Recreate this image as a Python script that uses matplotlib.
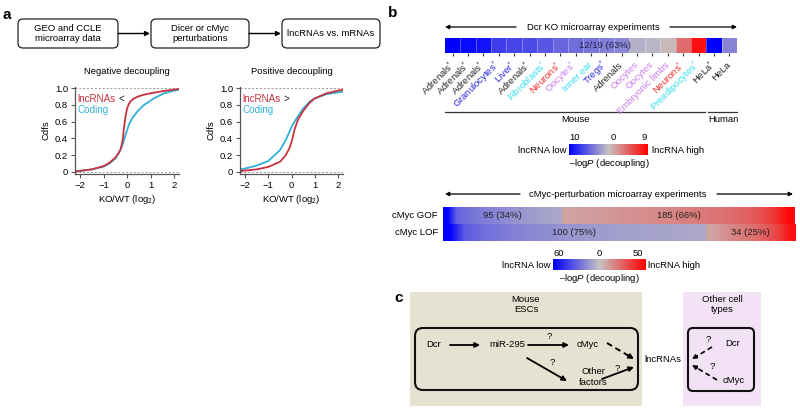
import numpy as np
import matplotlib
matplotlib.use("Agg")
import matplotlib.pyplot as plt
import matplotlib.colorbar as mcolorbar
from matplotlib.colors import LinearSegmentedColormap, TwoSlopeNorm
from matplotlib.patches import FancyBboxPatch, Rectangle

plt.rcParams['font.family'] = ['Liberation Sans', 'DejaVu Sans']
plt.rcParams['mathtext.fontset'] = 'custom'
plt.rcParams['mathtext.rm'] = 'Liberation Sans'
plt.rcParams['mathtext.it'] = 'Liberation Sans:italic'

FS = 6.8
RED = '#c8323f'
CYAN = '#2fb0d8'

# ---- panel a: cdf curves ----
neg_lnc_x = [-2.2, -2.0, -1.5, -1.0, -0.75, -0.5, -0.35, -0.28, -0.24, -0.2, -0.17, -0.14,
             -0.1, -0.05, 0.0, 0.07, 0.15, 0.3, 0.5, 0.75, 1.0, 1.5, 2.0, 2.2]
neg_lnc_y = [0.005, 0.012, 0.03, 0.068, 0.11, 0.17, 0.23, 0.27, 0.31, 0.36, 0.43, 0.51,
             0.6, 0.69, 0.76, 0.81, 0.845, 0.88, 0.905, 0.925, 0.94, 0.965, 0.985, 0.99]
neg_cod_x = [-2.2, -2.0, -1.5, -1.0, -0.75, -0.5, -0.3, -0.2, -0.07, 0.07, 0.21, 0.43, 0.71,
             1.14, 1.57, 2.04, 2.2]
neg_cod_y = [0.005, 0.012, 0.03, 0.065, 0.1, 0.16, 0.25, 0.32, 0.44, 0.56, 0.64, 0.72, 0.80,
             0.88, 0.94, 0.975, 0.98]

pos_lnc_x = [-2.2, -1.5, -1.0, -0.5, -0.25, -0.1, 0.0, 0.14, 0.28, 0.5, 0.78, 1.0, 1.5, 2.2]
pos_lnc_y = [0.01, 0.03, 0.06, 0.12, 0.2, 0.28, 0.36, 0.52, 0.63, 0.73, 0.83, 0.88, 0.94, 0.985]
pos_cod_x = [-2.2, -2.0, -1.5, -1.0, -0.5, -0.25, 0.0, 0.21, 0.5, 0.78, 1.0, 1.5, 2.2]
pos_cod_y = [0.03, 0.04, 0.075, 0.13, 0.26, 0.38, 0.54, 0.64, 0.76, 0.84, 0.88, 0.93, 0.96]

flow_labels = ["GEO and CCLE\nmicroarray data", "Dicer or cMyc\nperturbations", "lncRNAs vs. mRNAs"]

# ---- panel b: Dcr KO experiments ----
dcr_tissues = ["Adrenals*", "Adrenals*", "Adrenals*", "Granulocytes*", "Liver*", "Adrenals*",
               "Fibroblasts*", "Neurons*", "Oocytes*", "Inner ear", "Tregs*", "Adrenals",
               "Oocytes", "Oocytes", "Embryonic limbs", "Neurons*", "Preadipocytes*", "HeLa*", "HeLa"]
dcr_type = ["adr", "adr", "adr", "blood", "blood", "adr", "cyan", "neuron", "germ", "cyan", "blood",
            "adr", "germ", "germ", "germ", "neuron", "cyan", "adr", "adr"]
dcr_logp = [-10, -9.5, -9, -6.8, -6.4, -6.1, -5.5, -4.7, -4.3, -3.9, -3.4, -3.0,
            -0.9, -0.6, 0.4, 4.0, 8.2, -10, -3.2]
type_color = {"adr": "#222222", "blood": "#2222dd", "cyan": "#33dff0",
              "neuron": "#f02525", "germ": "#c97ced"}

# ---- panel b: cMyc experiments ----
gof_n = [95, 185]
lof_n = [100, 34]
gof_low = [-60, -30, -26, -23, -21, -19, -17, -15, -13.5, -12, -10.5, -9, -8]
gof_high = [8, 9, 10, 11, 12, 13, 14, 15, 16, 17.5, 19, 20, 22, 25, 29, 36, 48]
lof_low = [-60, -32, -27, -24, -21, -19, -17, -15.5, -14, -13, -12, -11, -10.5, -10, -9.5, -9, -8.5, -8]
lof_high = [8, 12, 16, 19, 22, 27, 34, 45]

cmap = LinearSegmentedColormap.from_list("bgr", ["#0000ff", "#c6c2c2", "#ff0000"])
norm_dcr = TwoSlopeNorm(vmin=-10, vcenter=0, vmax=9)
norm_myc = TwoSlopeNorm(vmin=-60, vcenter=0, vmax=50)

fig = plt.figure(figsize=(8, 4.11), dpi=100)
W, H = 800, 411

def fax(x0, y0, x1, y1):
    return fig.add_axes([x0 / W, 1 - y1 / H, (x1 - x0) / W, (y1 - y0) / H])

bg = fig.add_axes([0, 0, 1, 1], zorder=0)
bg.set_xlim(0, W)
bg.set_ylim(H, 0)
bg.axis('off')

def arrow(p0, p1, lw=1.0, ms=7):
    bg.annotate('', xy=p1, xytext=p0,
                arrowprops=dict(arrowstyle='-|>', color='k', lw=lw, mutation_scale=ms,
                                shrinkA=0, shrinkB=0))

def dashed_arrow(p0, p1, lw=1.4, ms=7):
    p0 = np.array(p0, float)
    p1 = np.array(p1, float)
    d = (p1 - p0) / np.hypot(*(p1 - p0))
    mid = p1 - d * 5
    bg.plot([p0[0], mid[0]], [p0[1], mid[1]], color='k', lw=lw, ls=(0, (3, 2)),
            solid_capstyle='butt', dash_capstyle='butt')
    bg.annotate('', xy=tuple(p1), xytext=tuple(p1 - d * 6),
                arrowprops=dict(arrowstyle='-|>', color='k', lw=lw, mutation_scale=ms,
                                shrinkA=0, shrinkB=0))

# panel labels
bg.text(7, 15, 'a', fontsize=11, fontweight='bold', ha='center', va='center')
bg.text(393, 13, 'b', fontsize=11, fontweight='bold', ha='center', va='center')
bg.text(399, 298, 'c', fontsize=11, fontweight='bold', ha='center', va='center')

# ---- panel a flow chart ----
boxes = [(18, 118), (151, 249), (282, 380)]
for (x0, x1), lab in zip(boxes, flow_labels):
    bg.add_patch(FancyBboxPatch((x0, 19), x1 - x0, 29, boxstyle='round,pad=0,rounding_size=5',
                                fc='white', ec='#222', lw=0.9))
    bg.text((x0 + x1) / 2, 33.5, lab, ha='center', va='center', fontsize=FS, linespacing=1.15)
arrow((118, 33.5), (150, 33.5))
arrow((249, 33.5), (281, 33.5))

bg.text(127, 72, 'Negative decoupling', ha='center', va='center', fontsize=FS)
bg.text(292, 72, 'Positive decoupling', ha='center', va='center', fontsize=FS)

def cdf_axes(ax, lx, ly, cx, cy, sign):
    ax.axhline(0, color='#999', lw=0.7, ls=(0, (2, 2)), zorder=0)
    ax.axhline(1, color='#999', lw=0.7, ls=(0, (2, 2)), zorder=0)
    ax.plot(cx, cy, color=CYAN, lw=1.3)
    ax.plot(lx, ly, color=RED, lw=1.3)
    ax.set_xlim(-2.21, 2.2)
    ax.set_ylim(-0.025, 1.015)
    ax.set_xticks([-2, -1, 0, 1, 2])
    ax.set_xticklabels(['\u22122', '\u22121', '0', '1', '2'])
    ax.set_yticks([0, 0.2, 0.4, 0.6, 0.8, 1.0])
    ax.set_yticklabels(['0', '0.2', '0.4', '0.6', '0.8', '1.0'])
    for s in ['top', 'right']:
        ax.spines[s].set_visible(False)
    for s in ['left', 'bottom']:
        ax.spines[s].set_color('#555')
        ax.spines[s].set_linewidth(0.9)
    ax.tick_params(labelsize=FS, length=3, width=0.8, color='#555', pad=2)
    ax.set_xlabel('KO/WT (log$_2$)', fontsize=FS, labelpad=2)
    ax.set_ylabel('Cdfs', fontsize=FS, labelpad=3)
    t = ax.text(0.02, 0.865, 'lncRNAs', transform=ax.transAxes, color=RED, fontsize=FS + 0.3,
                va='center')
    ax.annotate(sign, xy=(1, 0.5), xycoords=t, xytext=(2, 0), textcoords='offset points',
                va='center', ha='left', fontsize=FS + 0.3, color='#222')
    ax.text(0.02, 0.73, 'Coding', transform=ax.transAxes, color=CYAN, fontsize=FS + 0.3,
            va='center')

ax1 = fax(75, 87, 179, 174)
cdf_axes(ax1, neg_lnc_x, neg_lnc_y, neg_cod_x, neg_cod_y, '<')
ax2 = fax(240, 87, 343, 174)
cdf_axes(ax2, pos_lnc_x, pos_lnc_y, pos_cod_x, pos_cod_y, '>')

# ---- panel b: Dcr heatmap ----
bg.text(593, 27, 'Dcr KO microarray experiments', ha='center', va='center', fontsize=FS)
arrow((516, 27), (445, 27), lw=0.9, ms=6)
arrow((670, 27), (737, 27), lw=0.9, ms=6)

axd = fax(445, 38, 737, 53)
n = len(dcr_logp)
axd.imshow(np.array([dcr_logp]), cmap=cmap, norm=norm_dcr, aspect='auto',
           extent=(0, n, 0, 1), interpolation='nearest')
axd.vlines(np.arange(1, n), 0, 1, color='white', lw=0.6, alpha=0.35)
axd.set_xlim(0, n)
axd.set_ylim(0, 1)
axd.set_yticks([])
axd.set_xticks(np.arange(n) + 0.5)
labels = [t.replace('*', '$^{*}$') for t in dcr_tissues]
axd.set_xticklabels(labels, rotation=45, ha='right', va='center', rotation_mode='anchor',
                    fontsize=FS)
for lbl, ty in zip(axd.get_xticklabels(), dcr_type):
    lbl.set_color(type_color[ty])
axd.tick_params(axis='x', length=2.5, width=0.8, color='#333', pad=5)
for s in axd.spines.values():
    s.set_visible(False)
n_low = sum(1 for v in dcr_logp[:17] if v < -2)
axd.text(10.4, 0.5, '%d/%d (%d%%)' % (n_low, n, round(100 * n_low / n)), ha='center', va='center',
         fontsize=FS, color='#23234d')

bg.plot([445, 705], [112, 112], color='#333', lw=0.9)
bg.plot([708, 737], [112, 112], color='#333', lw=0.9)
bg.text(576, 119, 'Mouse', ha='center', va='center', fontsize=FS)
bg.text(723, 119, 'Human', ha='center', va='center', fontsize=FS)

cax1 = fax(569, 144, 648, 155)
cb1 = mcolorbar.ColorbarBase(cax1, cmap=cmap, norm=norm_dcr, orientation='horizontal')
cb1.set_ticks([])
cb1.outline.set_visible(False)
bg.text(575, 137, '10', ha='center', va='center', fontsize=FS)
bg.text(613, 137, '0', ha='center', va='center', fontsize=FS)
bg.text(644, 137, '9', ha='center', va='center', fontsize=FS)
bg.text(566, 150, 'lncRNA low', ha='right', va='center', fontsize=FS)
bg.text(652, 150, 'lncRNA high', ha='left', va='center', fontsize=FS)
bg.text(609, 163, '\u2013log$\\it{P}$ (decoupling)', ha='center', va='center', fontsize=FS)

# ---- panel b: cMyc heatmap ----
bg.text(618, 194, 'cMyc-perturbation microarray experiments', ha='center', va='center', fontsize=FS)
arrow((520, 194), (445, 194), lw=0.9, ms=6)
arrow((717, 194), (793, 194), lw=0.9, ms=6)

axm = fax(443, 207, 795, 241)
rows = [(gof_n, gof_low, gof_high, 1), (lof_n, lof_low, lof_high, 0)]
for counts, low, high, r in rows:
    frac = counts[0] / sum(counts)
    axm.imshow(np.array([low]), cmap=cmap, norm=norm_myc, aspect='auto',
               extent=(0, frac, r, r + 1), interpolation='bilinear')
    axm.imshow(np.array([high]), cmap=cmap, norm=norm_myc, aspect='auto',
               extent=(frac, 1, r, r + 1), interpolation='bilinear')
    axm.text(frac / 2, r + 0.5, '%d (%d%%)' % (counts[0], round(100 * frac)),
             ha='center', va='center', fontsize=FS, color='#222')
    axm.text((frac + 1) / 2, r + 0.5, '%d (%d%%)' % (counts[1], round(100 * (1 - frac))),
             ha='center', va='center', fontsize=FS, color='#222')
axm.set_xlim(0, 1)
axm.set_ylim(0, 2)
axm.axis('off')
bg.text(438, 215.5, 'cMyc GOF', ha='right', va='center', fontsize=FS)
bg.text(438, 232.5, 'cMyc LOF', ha='right', va='center', fontsize=FS)

cax2 = fax(553, 259, 646, 270)
cb2 = mcolorbar.ColorbarBase(cax2, cmap=cmap, norm=norm_myc, orientation='horizontal')
cb2.set_ticks([])
cb2.outline.set_visible(False)
bg.text(559, 253, '60', ha='center', va='center', fontsize=FS)
bg.text(599, 253, '0', ha='center', va='center', fontsize=FS)
bg.text(638, 253, '50', ha='center', va='center', fontsize=FS)
bg.text(550, 265, 'lncRNA low', ha='right', va='center', fontsize=FS)
bg.text(648, 265, 'lncRNA high', ha='left', va='center', fontsize=FS)
bg.text(599, 278, '\u2013log$\\it{P}$ (decoupling)', ha='center', va='center', fontsize=FS)

# ---- panel c: diagram ----
bg.add_patch(Rectangle((410, 292), 232, 114, fc='#e5e2d2', ec='none'))
bg.add_patch(Rectangle((683, 292), 78, 114, fc='#f3e2f6', ec='none'))
bg.text(526, 304.5, 'Mouse\nESCs', ha='center', va='center', fontsize=FS, linespacing=1.2)
bg.text(722, 304.5, 'Other cell\ntypes', ha='center', va='center', fontsize=FS, linespacing=1.2)
bg.add_patch(FancyBboxPatch((415, 328), 223, 62, boxstyle='round,pad=0,rounding_size=8',
                            fc='none', ec='#111', lw=1.5))
bg.add_patch(FancyBboxPatch((688, 328), 66, 63, boxstyle='round,pad=0,rounding_size=5',
                            fc='none', ec='#111', lw=1.5))

bg.text(434, 344, 'Dcr', ha='center', va='center', fontsize=FS)
bg.text(507, 344, 'miR-295', ha='center', va='center', fontsize=FS)
bg.text(588, 344, 'cMyc', ha='center', va='center', fontsize=FS)
bg.text(593, 377, 'Other\nfactors', ha='center', va='center', fontsize=FS, linespacing=1.2)
bg.text(663, 359, 'lncRNAs', ha='center', va='center', fontsize=FS)
arrow((450, 345), (480, 345), lw=1.3, ms=7)
arrow((528, 345), (569, 345), lw=1.3, ms=7)
bg.text(549, 336, '?', ha='center', va='center', fontsize=FS)
dashed_arrow((607, 343), (634, 359))
arrow((527, 358), (567, 381), lw=1.3, ms=7)
bg.text(552, 362, '?', ha='center', va='center', fontsize=FS)
arrow((602, 379), (634, 367), lw=1.3, ms=7)
bg.text(617, 368, '?', ha='center', va='center', fontsize=FS)

bg.text(733, 343, 'Dcr', ha='center', va='center', fontsize=FS)
bg.text(734, 380, 'cMyc', ha='center', va='center', fontsize=FS)
dashed_arrow((712, 347), (692, 359), lw=1.2, ms=6)
bg.text(708, 339, '?', ha='center', va='center', fontsize=FS)
dashed_arrow((717, 380), (692, 365), lw=1.2, ms=6)
bg.text(712, 366, '?', ha='center', va='center', fontsize=FS)

fig.savefig('out.png', dpi=100)
